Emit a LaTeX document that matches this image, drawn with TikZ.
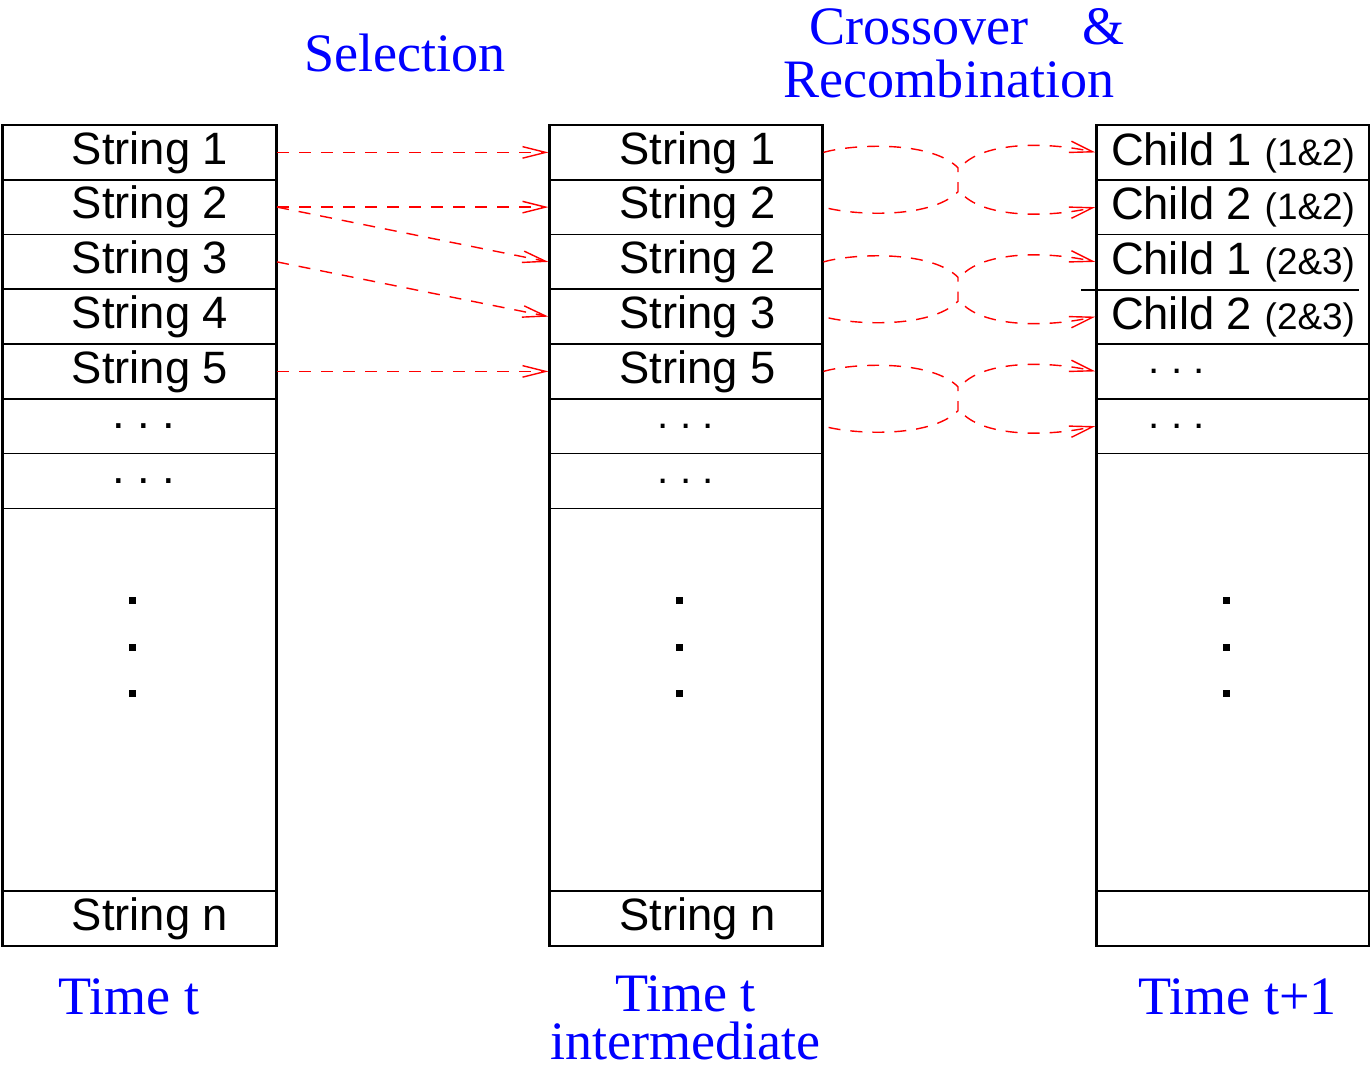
\documentclass[tikz,border=0pt]{standalone}
\usepackage{fontspec}
\usetikzlibrary{arrows.meta}
\newfontfamily\cellfont{Liberation Sans}
\newfontfamily\labelfont{Liberation Serif}
\newcommand\pairtag[1]{{\fontsize{10.5}{12}\selectfont #1}}

\begin{document}
\begin{tikzpicture}[
    cell/.style={draw,line width=0.45pt,minimum width=2.735cm,minimum height=0.5475cm,inner sep=0pt,
      font=\cellfont\fontsize{12.9}{15}\selectfont},
    bare/.style={cell,draw=none},
    nudge/.style={execute at begin node={\hspace{#1}}},
    nudge left/.style={execute at end node={\hspace{#1}}},
    smalldots/.style={font=\cellfont\fontsize{11.5}{14}\selectfont},
    colbox/.style={draw,line width=0.8pt,minimum width=2.735cm,minimum height=8.21cm,inner sep=0pt},
    vdot/.style={fill,minimum size=0.7mm,inner sep=0pt},
    caption/.style={blue,inner sep=0pt,font=\labelfont\fontsize{15.4}{13.8}\selectfont},
    pick/.style={red,dash pattern=on 1.2mm off 1mm,line width=0.4pt,-{Straight Barb[length=2.3mm,width=1.15mm]}},
    xover/.style={pick,-}
  ]
  \useasboundingbox (0,0) rectangle (13.7,-10.67);

  % the three populations
  \node[colbox] (colT) at (1.395,-5.355) {};
  \node[colbox] (colM) at (6.86,-5.355) {};
  \node[colbox] (colC) at (12.33,-5.355) {};

  % time t
  \node[cell,nudge=2.1mm] (t1) at (1.395,-1.524) {String 1};
  \node[cell,nudge=2.1mm] (t2) at (1.395,-2.071) {String 2};
  \node[cell,nudge=2.1mm] (t3) at (1.395,-2.619) {String 3};
  \node[cell,nudge=2.1mm] (t4) at (1.395,-3.166) {String 4};
  \node[cell,nudge=2.1mm] (t5) at (1.395,-3.714) {String 5};
  \node[cell,nudge=0.9mm] (t6) at (1.395,-4.261) {.\ .\ .};
  \node[cell,nudge=0.9mm] (t7) at (1.395,-4.809) {.\ .\ .};
  \node[cell,nudge=2.1mm] (tn) at (1.395,-9.186) {String n};

  % time t intermediate
  \node[cell,nudge=2.3mm] (m1) at (6.86,-1.524) {String 1};
  \node[cell,nudge=2.3mm] (m2) at (6.86,-2.071) {String 2};
  \node[cell,nudge=2.3mm] (m3) at (6.86,-2.619) {String 2};
  \node[cell,nudge=2.3mm] (m4) at (6.86,-3.166) {String 3};
  \node[cell,nudge=2.3mm] (m5) at (6.86,-3.714) {String 5};
  \node[cell,smalldots] (m6) at (6.86,-4.261) {.\ .\ .};
  \node[cell,smalldots] (m7) at (6.86,-4.809) {.\ .\ .};
  \node[cell,nudge=2.3mm] (mn) at (6.86,-9.186) {String n};

  % time t+1
  \node[cell] (c1) at (12.33,-1.524) {Child 1 \pairtag{(1\&2)}};
  \node[cell] (c2) at (12.33,-2.071) {Child 2 \pairtag{(1\&2)}};
  \node[bare] (c3) at (12.33,-2.619) {Child 1 \pairtag{(2\&3)}};
  \node[bare] (c4) at (12.33,-3.166) {Child 2 \pairtag{(2\&3)}};
  \node[cell,smalldots,nudge left=11.2mm] (c5) at (12.33,-3.714) {.\ .\ .};
  \node[cell,smalldots,nudge left=11.2mm] (c6) at (12.33,-4.261) {.\ .\ .};
  \node[cell] (cn) at (12.33,-9.186) {};
  \draw[line width=0.35pt] ([xshift=-1.4mm]c3.south west) -- ([xshift=-1.2mm]c3.south east);

  \foreach \c/\x in {T/1.32,M/6.795,C/12.26}
    \foreach \i/\y in {1/6.005,2/6.47,3/6.935}
      \node[vdot] (d\c\i) at (\x,-\y) {};

  % selection
  \draw[pick] (t1.east) -- (m1.west);
  \draw[pick] (t2.east) -- (m2.west);
  \draw[pick] (t2.east) -- (m3.west);
  \draw[pick] (t3.east) -- (m4.west);
  \draw[pick] (t5.east) -- (m5.west);

  % crossover points
  \coordinate (ja1) at (9.58,-1.6775);  \coordinate (jb1) at (9.58,-1.9175);
  \coordinate (ka1) at (9.65,-1.6275);  \coordinate (kb1) at (9.65,-1.9675);
  \coordinate (ja2) at (9.58,-2.7725);  \coordinate (jb2) at (9.58,-3.0125);
  \coordinate (ka2) at (9.65,-2.7225);  \coordinate (kb2) at (9.65,-3.0625);
  \coordinate (ja3) at (9.58,-3.8675);  \coordinate (jb3) at (9.58,-4.1075);
  \coordinate (ka3) at (9.65,-3.8175);  \coordinate (kb3) at (9.65,-4.1575);

  \foreach \i/\a/\b in {1/1/2,2/3/4,3/5/6} {
    \draw[xover] (m\a.east) .. controls +(0.27,0.08) and +(-0.28,0.28) .. (ja\i)
      -- (jb\i) .. controls +(-0.28,-0.28) and +(0.27,-0.08) .. (m\b.east);
    \draw[pick] (ka\i) .. controls +(0.25,0.21) and +(-0.47,0.104) .. (c\a.west);
    \draw[pick] (kb\i) .. controls +(0.25,-0.21) and +(-0.47,-0.104) .. (c\b.west);
  }

  % captions
  \node[caption,anchor=base] (sel) at (4.05,-0.71) {Selection};
  \node[caption,anchor=base] (xo) at (9.67,-0.44) {Crossover\hspace{5.4mm}\&};
  \node[caption,anchor=base] (rec) at (9.49,-0.97) {Recombination};
  \node[caption,anchor=base] (tt) at (1.29,-10.14) {Time t};
  \node[caption,anchor=south,align=center] (ti) at (6.855,-10.61) {Time t\\intermediate};
  \node[caption,anchor=base] (tt1) at (12.375,-10.14) {Time t+1};
\end{tikzpicture}
\end{document}
